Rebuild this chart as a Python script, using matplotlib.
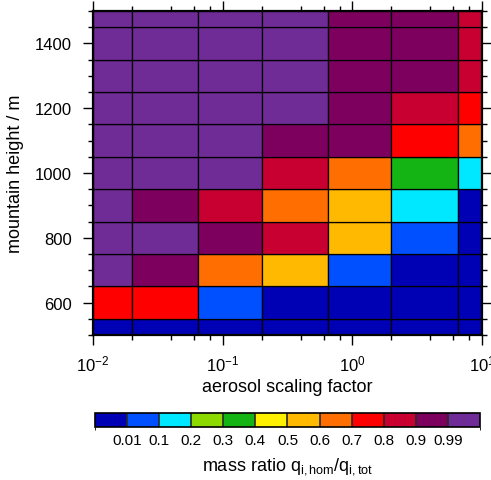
import numpy as np
import matplotlib
matplotlib.use("Agg")
import matplotlib.pyplot as plt
from matplotlib.colors import ListedColormap, BoundaryNorm
from matplotlib.ticker import LogLocator, MultipleLocator, NullFormatter

plt.rcParams['font.family'] = ['Liberation Sans', 'DejaVu Sans']
plt.rcParams['mathtext.fontset'] = 'custom'
plt.rcParams['mathtext.rm'] = 'Liberation Sans'
plt.rcParams['mathtext.it'] = 'Liberation Sans'
plt.rcParams['axes.unicode_minus'] = False

# cell edges of the grid
x_edges = [0.01, 0.02, 0.065, 0.2, 0.65, 2.0, 6.5, 10.0]
y_edges = [500, 550, 650, 750, 850, 950, 1050, 1150, 1250, 1350, 1450, 1500]

# mass ratio q_i,hom / q_i,tot, rows from 500 m (bottom) to 1500 m (top)
ratio = [
    [0.005, 0.005, 0.005, 0.005, 0.005, 0.005, 0.005],
    [0.75, 0.75, 0.05, 0.005, 0.005, 0.005, 0.005],
    [0.995, 0.95, 0.65, 0.55, 0.05, 0.005, 0.005],
    [0.995, 0.995, 0.95, 0.85, 0.55, 0.05, 0.005],
    [0.995, 0.95, 0.85, 0.65, 0.55, 0.15, 0.005],
    [0.995, 0.995, 0.995, 0.85, 0.65, 0.35, 0.15],
    [0.995, 0.995, 0.995, 0.95, 0.95, 0.75, 0.65],
    [0.995, 0.995, 0.995, 0.995, 0.95, 0.85, 0.75],
    [0.995, 0.995, 0.995, 0.995, 0.95, 0.95, 0.85],
    [0.995, 0.995, 0.995, 0.995, 0.95, 0.95, 0.85],
    [0.995, 0.995, 0.995, 0.995, 0.95, 0.95, 0.85],
]

levels = [0.01, 0.1, 0.2, 0.3, 0.4, 0.5, 0.6, 0.7, 0.8, 0.9, 0.99]
level_labels = ['0.01', '0.1', '0.2', '0.3', '0.4', '0.5', '0.6', '0.7', '0.8', '0.9', '0.99']
colors = ['#0000B4', '#0050FF', '#00E8FF', '#8CDA00', '#14B414', '#FFF000',
          '#FFB900', '#FF6E00', '#FF0000', '#C80032', '#7D005F', '#702C96']

cmap = ListedColormap(colors)
bounds = [0.0] + levels + [1.0]
norm = BoundaryNorm(bounds, cmap.N)

fig = plt.figure(figsize=(4.91, 4.81), dpi=100)
ax = fig.add_axes([0.1894, 0.3015, 0.7923, 0.6735])

mesh = ax.pcolormesh(x_edges, y_edges, np.array(ratio), cmap=cmap, norm=norm,
                     edgecolor='black', linewidth=0.9, antialiased=True)

ax.set_xscale('log')
ax.set_xlim(0.01, 10)
ax.set_ylim(500, 1500)
ax.xaxis.set_major_locator(LogLocator(base=10, numticks=10))
ax.xaxis.set_minor_locator(LogLocator(base=10, subs=(2, 4, 6, 8), numticks=10))
ax.xaxis.set_minor_formatter(NullFormatter())
ax.yaxis.set_minor_locator(MultipleLocator(50))
ax.set_yticks([600, 800, 1000, 1200, 1400])

ax.tick_params(which='both', direction='out', top=True, right=True, width=1.0)
ax.tick_params(which='major', length=7, labelsize=12)
ax.tick_params(axis='y', which='major', pad=8)
ax.tick_params(axis='x', which='major', pad=6)
ax.tick_params(which='minor', length=3.5)
for sp in ax.spines.values():
    sp.set_linewidth(1.6)

ax.set_xlabel('aerosol scaling factor', fontsize=13, labelpad=4)
ax.set_ylabel('mountain height / m', fontsize=13, labelpad=8)

cax = fig.add_axes([0.1935, 0.110, 0.784, 0.029])
cb = fig.colorbar(mesh, cax=cax, orientation='horizontal', drawedges=True,
                  boundaries=bounds, ticks=levels, spacing='uniform')
cb.ax.set_xticklabels(level_labels)
cb.ax.tick_params(length=0, labelsize=11, pad=4)
cb.outline.set_linewidth(1.2)
cb.dividers.set_linewidth(1.2)
cb.dividers.set_color('#2a2a2a')
cb.set_label('mass ratio q$_{\\mathregular{i,hom}}$/q$_{\\mathregular{i,tot}}$', fontsize=13, labelpad=6)

fig.savefig('out.png', dpi=100)
